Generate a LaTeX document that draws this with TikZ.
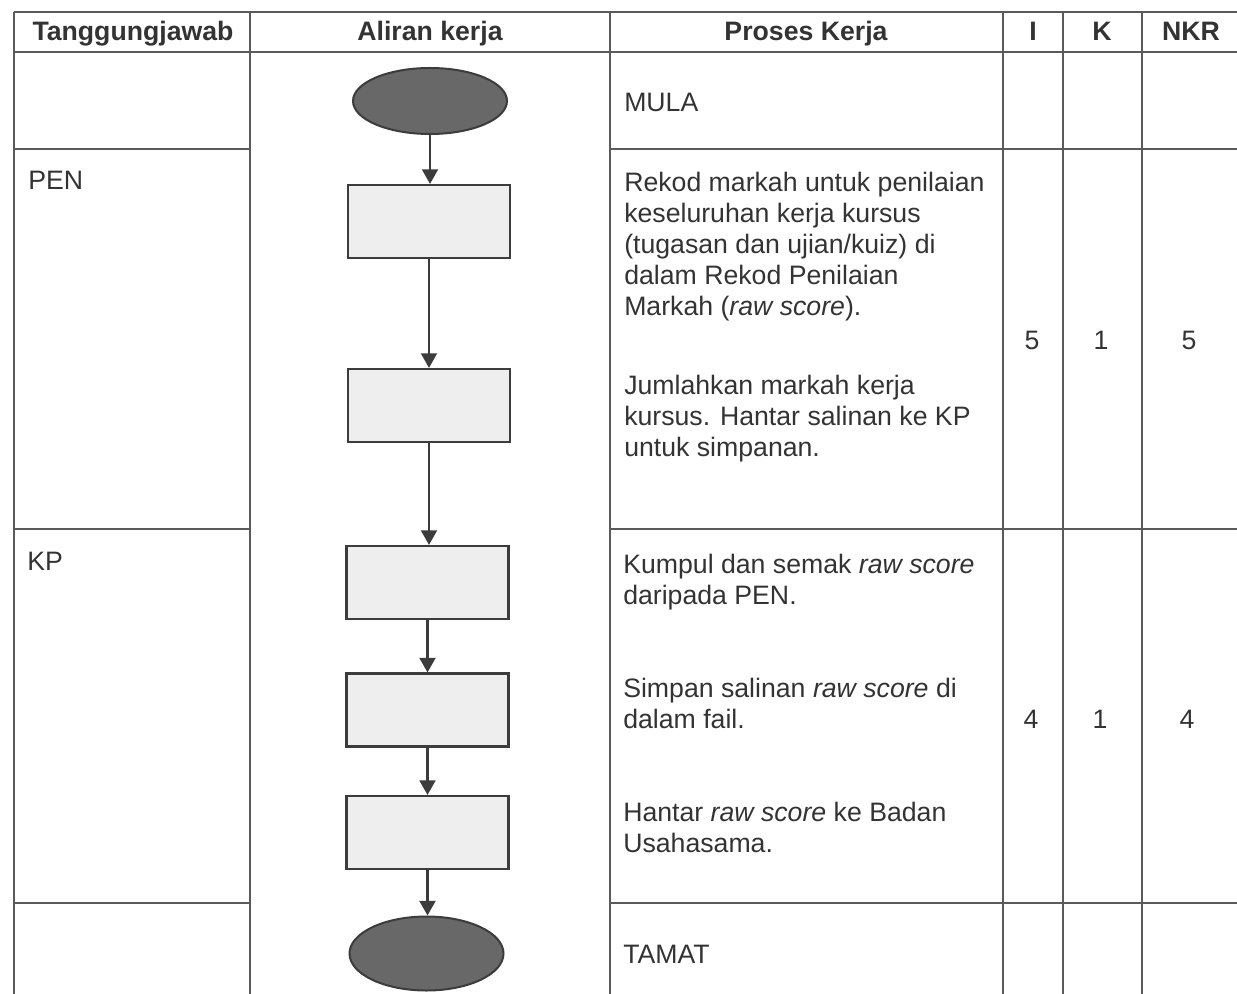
\documentclass[tikz,border=0pt]{standalone}
\usepackage{fontspec}
\setmainfont{Liberation Sans}
\usetikzlibrary{arrows.meta,shapes.geometric}

\definecolor{rule}{HTML}{5A5A5A}
\definecolor{ink}{HTML}{333333}
\definecolor{shapeline}{HTML}{3C3C3C}
\definecolor{termfill}{HTML}{686868}
\definecolor{boxfill}{HTML}{EEEEEE}

\tikzset{
  gridline/.style={draw=rule, line width=1.3pt},
  bodyfont/.style={font=\fontsize{20}{23.25}\selectfont},
  txt/.style={bodyfont, inner sep=0pt, anchor=base west, text=ink},
  % multi-line blocks are placed by the baseline of their last line
  block/.style={txt, align=left},
  hdr/.style={inner sep=0pt, anchor=base, text=ink,
              font=\fontsize{20}{23.25}\selectfont\bfseries},
  num/.style={bodyfont, inner sep=0pt, anchor=base, text=ink},
  terminal/.style={ellipse, draw=shapeline, fill=termfill, line width=1.5pt,
                   inner sep=0pt},
  procbox/.style={rectangle, draw=shapeline, fill=boxfill, line width=1.6pt,
                  inner sep=0pt, minimum width=121.5pt, minimum height=54.75pt},
  flow/.style={draw=shapeline, line width=1.6pt,
               -{Triangle[width=12pt,length=11pt]}}
}

\begin{document}
\begin{tikzpicture}[x=0.75pt, y=-0.75pt]
  \useasboundingbox (0,0) rectangle (1237,994);

  % table frame and column rules
  \draw[gridline] (14,12) -- (1237,12);
  \draw[gridline] (14,52) -- (1237,52);
  \foreach \cx in {14,250,610,1003,1063,1142}
    \draw[gridline] (\cx,12) -- (\cx,994);
  % row rules (the flow column is left open)
  \foreach \ry in {149,529,903} {
    \draw[gridline] (14,\ry) -- (250,\ry);
    \draw[gridline] (610,\ry) -- (1237,\ry);
  }

  % header
  \node[hdr] (hResp) at (133,41) {Tanggungjawab};
  \node[hdr] (hFlow) at (430,41) {Aliran kerja};
  \node[hdr] (hProc) at (806,41) {Proses Kerja};
  \node[hdr] (hI)    at (1033,41) {I};
  \node[hdr] (hK)    at (1102,41) {K};
  \node[hdr] (hNKR)  at (1191,41) {NKR};

  % responsibility column
  \node[txt] (rPEN) at (28,190) {PEN};
  \node[txt] (rKP)  at (27,570) {KP};

  % flow chart
  \node[terminal, minimum width=115.5pt, minimum height=49.5pt] (start) at (430,101) {};
  \node[procbox] (s1) at (429,221.5) {};
  \node[procbox] (s2) at (429,405.5) {};
  \node[procbox] (s3) at (427.5,582.5) {};
  \node[procbox] (s4) at (427.5,710) {};
  \node[procbox] (s5) at (427.5,832.5) {};
  \node[terminal, minimum width=115.5pt, minimum height=55.5pt] (stop) at (426.5,953.5) {};

  \draw[flow] (start.south) -- (start.south |- s1.north);
  \draw[flow] (s1.south) -- (s1.south |- s2.north);
  \draw[flow] (s2.south) -- (s2.south |- s3.north);
  \draw[flow] (s3.south) -- (s3.south |- s4.north);
  \draw[flow] (s4.south) -- (s4.south |- s5.north);
  \draw[flow] (s5.south) -- (s5.south |- stop.north);

  % process descriptions
  \node[txt] (pStart) at (624,112) {MULA};
  \node[block] (p1) at (624,316) {Rekod markah untuk penilaian\\
    keseluruhan kerja kursus\\
    (tugasan dan ujian/kuiz) di\\
    dalam Rekod Penilaian\\
    Markah (\textit{raw score}).};
  \node[block] (p2) at (624,456) {Jumlahkan markah kerja\\
    kursus. Hantar salinan ke KP\\
    untuk simpanan.};
  \node[block] (p3) at (623,604) {Kumpul dan semak \textit{raw score}\\
    daripada PEN.};
  \node[block] (p4) at (623,728) {Simpan salinan \textit{raw score} di\\
    dalam fail.};
  \node[block] (p5) at (623,852) {Hantar \textit{raw score} ke Badan\\
    Usahasama.};
  \node[txt] (pStop) at (623,963) {TAMAT};

  % ratings
  \node[num] (i1) at (1032,350) {5};
  \node[num] (k1) at (1101,350) {1};
  \node[num] (n1) at (1189,350) {5};
  \node[num] (i2) at (1031,728) {4};
  \node[num] (k2) at (1100,728) {1};
  \node[num] (n2) at (1187,728) {4};
\end{tikzpicture}
\end{document}
